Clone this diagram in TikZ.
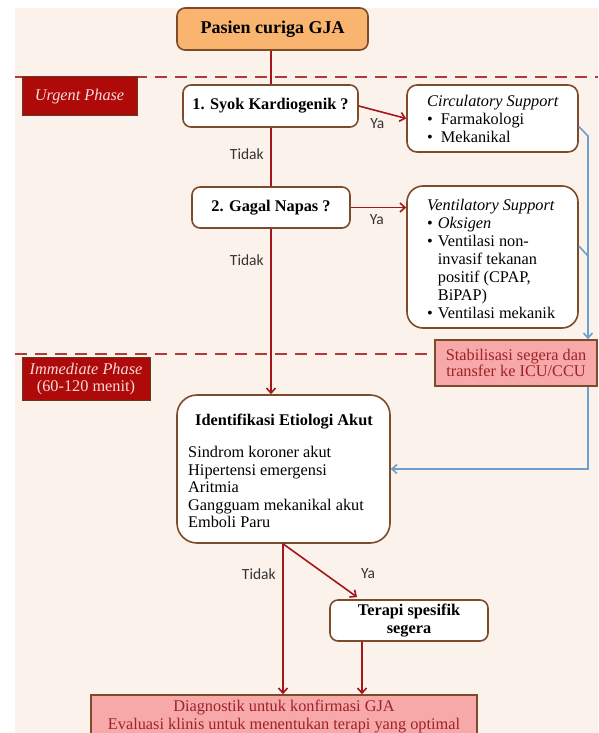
\documentclass[tikz,border=0pt]{standalone}
\usepackage{fontspec}
\setmainfont{Liberation Serif}
\newfontfamily\sansf{Carlito}
\usetikzlibrary{arrows.meta}
\definecolor{bg}{HTML}{FCF2EC}
\definecolor{brd}{HTML}{7B4B2A}
\definecolor{lred}{HTML}{A5161C}
\definecolor{dred}{HTML}{B03A3A}
\definecolor{phase}{HTML}{AF0A0A}
\definecolor{phasetxt}{HTML}{F7D9D9}
\definecolor{orangef}{HTML}{F9B46F}
\definecolor{pinkf}{HTML}{F7A8A8}
\definecolor{pinktxt}{HTML}{9E2228}
\definecolor{blu}{HTML}{6C9FCB}
\begin{document}
\begin{tikzpicture}[x=1pt,y=-1pt,
  rbox/.style={draw=brd, line width=1.6pt, fill=white, rounded corners=8pt, inner sep=0pt, align=center,
    font=\bfseries\fontsize{16.3}{18}\selectfont},
  phasebox/.style={draw=brd!80!black, line width=1pt, fill=phase, text=phasetxt, inner sep=0pt, align=center,
    font=\fontsize{16.3}{17}\selectfont},
  pinkbox/.style={draw=brd, line width=1.6pt, fill=pinkf, text=pinktxt, inner sep=0pt, align=center},
  lbl/.style={font=\sansf\fontsize{15.5}{16}\selectfont, text=black!80, inner sep=0pt},
  redln/.style={draw=lred, line width=1.6pt},
  redarr/.style={redln, -{Straight Barb[length=5pt,width=9pt]}},
  bluarr/.style={draw=blu, line width=1.6pt, -{Straight Barb[length=5pt,width=9pt]}},
  phasedash/.style={draw=dred, line width=2.2pt, dash pattern=on 12pt off 8pt},
  txt/.style={inner sep=0pt, font=\fontsize{16.3}{18}\selectfont}
]
\useasboundingbox (0,0) rectangle (598,733);
\clip (0,0) rectangle (598,733);
\fill[bg] (15,8) rectangle (598,733);

% phase separators
\draw[phasedash] (15,77) -- (598,77);
\draw[phasedash] (15,354) -- (430,354);

% phase labels
\node[phasebox, minimum width=115pt, minimum height=39pt] (urgent) at (79.5,96.5) {\itshape Urgent Phase};
\node[phasebox, minimum width=128pt, minimum height=43pt] (immediate) at (86,379) {\itshape Immediate Phase\\(60-120 menit)};

% main nodes
\node[rbox, fill=orangef, minimum width=191pt, minimum height=42pt, font=\bfseries\fontsize{18}{20}\selectfont] (pasien) at (272.5,29) {Pasien curiga GJA};
\node[rbox, minimum width=175pt, minimum height=42pt] (syok) at (270.5,106) {1. Syok Kardiogenik ?};
\node[rbox, minimum width=158pt, minimum height=41pt] (gagal) at (271,207.5) {2. Gagal Napas ?};

\node[rbox, rounded corners=10pt, minimum width=171pt, minimum height=67pt] (circ) at (492.5,118.5) {};
\node[txt, anchor=base west] (circtxt) at (427,106.5) {\begin{tabular}[t]{@{}l@{\hspace{8pt}}l@{}}
\multicolumn{2}{@{}l@{}}{\itshape Circulatory Support}\\
\textbullet & Farmakologi\\
\textbullet & Mekanikal
\end{tabular}};

\node[rbox, rounded corners=16pt, minimum width=171pt, minimum height=142pt] (vent) at (492.5,257) {};
\node[txt, anchor=base west] (venttxt) at (427,210.5) {\begin{tabular}[t]{@{}l@{\hspace{5pt}}l@{}}
\multicolumn{2}{@{}l@{}}{\itshape Ventilatory Support}\\
\textbullet & \itshape Oksigen\\
\textbullet & Ventilasi non-\\
 & invasif tekanan\\
 & positif (CPAP,\\
 & BiPAP)\\
\textbullet & Ventilasi mekanik
\end{tabular}};

\node[pinkbox, minimum width=162pt, minimum height=46pt, font=\fontsize{16.3}{16.5}\selectfont] (stab) at (516,363) {Stabilisasi segera dan\\transfer ke ICU/CCU};

\node[rbox, rounded corners=20pt, minimum width=213pt, minimum height=148pt] (ident) at (283.5,469) {};
\node[txt, anchor=base, font=\bfseries\fontsize{16.3}{18}\selectfont] (identtitle) at (284,425.5) {Identifikasi Etiologi Akut};
\node[txt, anchor=base west, font=\fontsize{16.3}{17.5}\selectfont] (identlist) at (188,457.5) {\begin{tabular}[t]{@{}l@{}}
Sindrom koroner akut\\
Hipertensi emergensi\\
Aritmia\\
Gangguam mekanikal akut\\
Emboli Paru
\end{tabular}};

\node[rbox, minimum width=158pt, minimum height=41pt] (terapi) at (409,620.5) {Terapi spesifik\\segera};

\node[pinkbox, minimum width=386pt, minimum height=49pt] (diag) at (284,719.5) {};
\node[txt, anchor=base, text=pinktxt, font=\fontsize{16.3}{18}\selectfont] (diagtxt) at (284,711.5) {\begin{tabular}[t]{@{}c@{}}
Diagnostik untuk konfirmasi GJA\\
Evaluasi klinis untuk menentukan terapi yang optimal
\end{tabular}};

% helper x positions
\coordinate (mx) at (271,0);
\coordinate (bx) at (588,0);
\coordinate (lx) at (283,0);
\coordinate (tx) at (362,0);

% red connectors
\draw[redln] (pasien.south -| mx) -- (syok.north -| mx);
\draw[redln] (syok.south -| mx) -- node[lbl, left=6.5pt, pos=0.45] (tidak1) {Tidak} (gagal.north -| mx);
\draw[redarr] (gagal.south -| mx) -- node[lbl, left=6.5pt, pos=0.19] (tidak2) {Tidak} (ident.north -| mx);
\draw[redarr] (syok.east) -- node[lbl, below=7pt, pos=0.39] (ya1) {Ya} (circ.west);
\draw[redarr] (gagal.east) -- node[lbl, below=6pt, pos=0.47] (ya2) {Ya} (vent.west |- gagal.east);
\draw[redarr] (ident.south -| lx) -- node[lbl, left=6.5pt, pos=0.2] (tidak3) {Tidak} (diag.north -| lx);
\draw[redarr] (ident.south -| lx) -- (357,597) coordinate (terapiin);
\node[lbl] (ya3) at (368,574) {Ya};
\draw[redarr] (terapi.south -| tx) -- (diag.north -| tx);

% blue connectors
\draw[bluarr] ([yshift=-8pt]circ.east) -- (bx |- 0,136) -- (bx |- stab.north);
\draw[draw=blu, line width=1.6pt] ([yshift=11pt]vent.east) -- (bx |- 0,256);
\draw[bluarr] (bx |- stab.south) -- (bx |- ident.east) -- (ident.east);
\end{tikzpicture}
\end{document}
